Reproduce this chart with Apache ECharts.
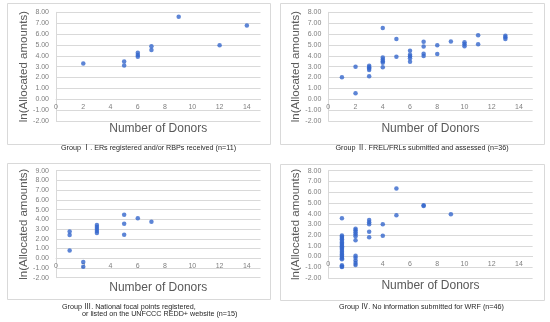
<!DOCTYPE html>
<html>
<head>
<meta charset="utf-8">
<script src="https://cdn.jsdelivr.net/npm/echarts@6/dist/echarts.min.js"></script>
<style>
html,body{margin:0;padding:0;background:#fff;}
#chart{width:550px;height:322px;}
</style>
</head>
<body>
<div id="chart"></div>
<script>
// ---- Data ----
const g1Donors = [2,5,5,6,6,6,7,7,9,12,14];
const g1Values = [3.28,3.47,3.10,4.29,4.08,3.90,4.88,4.54,7.60,4.97,6.78];

const g2Donors = [1,2,2,3,3,3,3,3,4,4,4,4,4,4,5,5,6,6,6,6,6,7,7,7,7,8,8,9,10,10,10,11,11,13,13,13];
const g2Values = [2.02,2.98,0.55,3.08,2.95,2.82,2.70,2.12,6.55,3.85,3.65,3.50,3.35,2.95,5.55,3.92,4.47,4.10,3.95,3.78,3.45,5.30,4.85,4.18,3.98,4.97,4.17,5.32,5.25,5.06,4.88,5.90,5.06,5.85,5.70,5.55];

const g3Donors = [1,1,1,2,2,3,3,3,3,3,5,5,5,6,7];
const g3Values = [2.75,2.40,0.80,-0.38,-0.88,3.42,3.20,3.00,2.80,2.60,4.47,3.55,2.42,4.12,3.75];

const g4Donors = [1,1,1,1,1,1,1,1,1,1,1,1,1,1,1,1,1,1,1,1,1,1,1,
                  2,2,2,2,2,2,2,2,2,2,2,
                  3,3,3,3,3,
                  4,4,
                  5,5,
                  7,7,
                  9];
const g4Values = [3.58,1.97,1.85,1.72,1.60,1.45,1.32,1.20,1.08,0.95,0.85,0.72,0.60,0.45,0.32,0.20,0.08,-0.05,-0.15,-0.25,-0.82,-0.92,-0.98,
                  2.60,2.45,2.27,2.08,1.90,1.52,0.08,-0.12,-0.37,-0.60,-0.80,
                  3.40,3.20,3.00,2.30,1.80,
                  3.00,1.93,
                  6.35,3.85,
                  4.78,4.72,
                  3.95];

const yMax = [8, 8, 9, 8];
const yMin = -2;
const xMin = 0, xMax = 15, xStep = 2;
const xTitle = 'Number of Donors';
const yTitle = 'ln(Allocated amounts)';
const captions = [
  ['Group Ⅰ. ERs registered and/or RBPs received (n=11)'],
  ['Group Ⅱ. FREL/FRLs submitted and assessed (n=36)'],
  ['Group Ⅲ. National focal points registered,', 'or listed on the UNFCCC REDD+ website (n=15)'],
  ['Group Ⅳ. No information submitted for WRF (n=46)']
];
const groups = [[g1Donors,g1Values],[g2Donors,g2Values],[g3Donors,g3Values],[g4Donors,g4Values]];

// ---- Layout ----
const FONT = '"Liberation Sans", Arial, "Noto Sans CJK KR", sans-serif';
const grids = [
  {left:56, top:12.3, width:204.5, height:108.7},
  {left:328.3, top:12.3, width:204.3, height:108.7},
  {left:56, top:170.7, width:204.5, height:107},
  {left:328.3, top:170.7, width:204.3, height:107.3}
];
const boxes = [
  {x:7, y:3, w:263, h:141},
  {x:280, y:3, w:264, h:141},
  {x:7, y:163, w:263, h:136},
  {x:280, y:164, w:264, h:136}
];
const captionPos = [
  [{x:148.5, y:148.3, align:'center'}],
  [{x:422, y:148.3, align:'center'}],
  [{x:62, y:306.7, align:'left'}, {x:82, y:313.6, align:'left'}],
  [{x:421.5, y:306.7, align:'center'}]
];

const chart = echarts.init(document.getElementById('chart'), null, {renderer:'canvas'});

const xAxes = [], yAxes = [], series = [], graphics = [];
for (let i = 0; i < 4; i++) {
  // place the category axis where y = 0 (axis crosses at zero)
  const zeroOffset = -((0 - yMin) / (yMax[i] - yMin)) * grids[i].height;
  xAxes.push({
    type:'value', gridIndex:i, min:xMin, max:xMax, interval:xStep,
    position:'bottom', offset:zeroOffset,
    axisLine:{show:true, onZero:false, lineStyle:{color:'#d9d9d9', width:1}},
    axisTick:{show:false},
    splitLine:{show:false},
    axisLabel:{color:'#7f7f7f', fontSize:7, fontFamily:FONT, margin:4, showMaxLabel:false},
    name:xTitle, nameLocation:'middle', nameGap:23,
    nameTextStyle:{color:'#595959', fontSize:12, fontFamily:FONT}
  });
  yAxes.push({
    type:'value', gridIndex:i, min:yMin, max:yMax[i], interval:1,
    axisLine:{show:true, onZero:false, lineStyle:{color:'#d9d9d9', width:1}},
    axisTick:{show:false},
    splitLine:{show:true, lineStyle:{color:'#d9d9d9', width:1}},
    axisLabel:{color:'#7f7f7f', fontSize:7, fontFamily:FONT, margin:7,
      formatter:v => v.toFixed(2)},
    name:yTitle, nameLocation:'middle', nameGap:21,
    nameTextStyle:{color:'#595959', fontSize:11.5, fontFamily:FONT}
  });
  const [dx, dy] = groups[i];
  series.push({
    type:'scatter', xAxisIndex:i, yAxisIndex:i,
    data: dx.map((d, k) => [d, dy[k]]),
    symbol:'circle', symbolSize:4.5,
    itemStyle:{color:'#3567cc'},
    silent:true
  });
  const b = boxes[i];
  graphics.push({
    type:'rect', shape:{x:b.x+0.5, y:b.y+0.5, width:b.w, height:b.h},
    style:{fill:null, stroke:'#d9d9d9', lineWidth:1}, z:-1
  });
  captions[i].forEach((t, k) => {
    const p = captionPos[i][k];
    graphics.push({
      type:'text', x:p.x, y:p.y,
      style:{text:t, fill:'#262626', font:'7.2px ' + FONT, textAlign:p.align, textVerticalAlign:'middle'}
    });
  });
}

chart.setOption({
  animation:false,
  backgroundColor:'#fff',
  grid:grids,
  xAxis:xAxes,
  yAxis:yAxes,
  series:series,
  graphic:graphics
});
</script>
</body>
</html>
